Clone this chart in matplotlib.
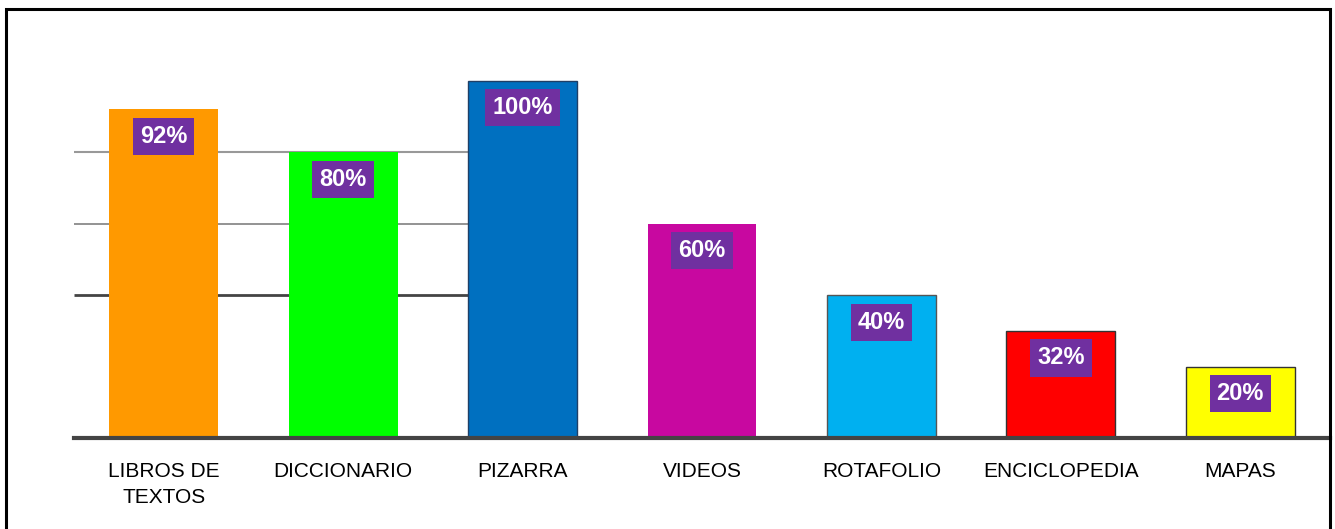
import matplotlib.pyplot as plt
from matplotlib.patches import Rectangle

categories = ["LIBROS DE\nTEXTOS", "DICCIONARIO", "PIZARRA", "VIDEOS",
              "ROTAFOLIO", "ENCICLOPEDIA", "MAPAS"]
values = [92, 80, 100, 60, 40, 30, 20]
labels = ["92%", "80%", "100%", "60%", "40%", "32%", "20%"]
colors = ["#FF9900", "#00FF00", "#0070C0", "#C808A0", "#00B0F0", "#FF0000", "#FFFF00"]
edges = ["none", "none", "#1F3F66", "none", "#555555", "#333333", "#333333"]

plt.rcParams["font.family"] = ["Liberation Sans", "DejaVu Sans"]

W, H = 1335, 529
fig = plt.figure(figsize=(W / 100, H / 100), dpi=100)
ax = fig.add_axes([74 / W, (H - 438) / H, (1330 - 74) / W, (438 - 9) / H])

x = range(len(values))

# partial gridlines, hidden behind the bars
ax.hlines(80, -0.5, 2, color="#999999", lw=1.5, zorder=1)
ax.hlines(60, -0.5, 2, color="#808080", lw=1.2, zorder=1)
ax.hlines(40, -0.5, 2, color="#444444", lw=2.0, zorder=1)

ax.bar(x, values, width=0.607, color=colors, edgecolor=edges, linewidth=1.0, zorder=2)

for i, (v, lab) in enumerate(zip(values, labels)):
    ax.text(i, v - 7.6, lab, ha="center", va="center", color="white",
            fontsize=17, fontweight="bold", zorder=3,
            bbox=dict(boxstyle="square,pad=0.3", fc="#7030A0", ec="none"))

ax.set_xlim(-0.5, 6.5)
ax.set_ylim(0, 120)
ax.set_yticks([])
ax.set_xticks(list(x))
ax.set_xticklabels(categories, fontsize=15, linespacing=1.5)
ax.tick_params(axis="x", length=0, pad=17)
for s in ["top", "right", "left"]:
    ax.spines[s].set_visible(False)
ax.spines["bottom"].set_color("#444444")
ax.spines["bottom"].set_linewidth(3)

# outer frame around the whole picture
fig.patches.append(Rectangle((6 / W, -0.05), (1330 - 6) / W, 1.05 - 9 / H,
                             transform=fig.transFigure, fill=False,
                             ec="black", lw=2.2))

fig.savefig("out.png", dpi=100)
